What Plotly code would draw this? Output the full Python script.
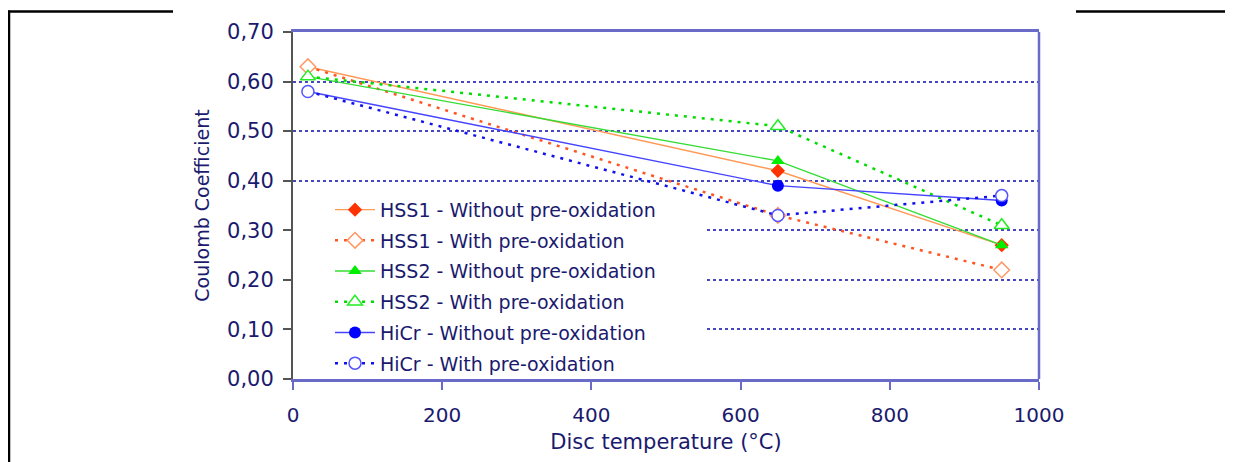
import plotly.graph_objects as go

# ---- data ----
temperatures = [20, 650, 950]
series_names = [
    "HSS1 - Without pre-oxidation",
    "HSS1 - With pre-oxidation",
    "HSS2 - Without pre-oxidation",
    "HSS2 - With pre-oxidation",
    "HiCr - Without pre-oxidation",
    "HiCr - With pre-oxidation",
]
hss1_without = [0.63, 0.42, 0.27]
hss1_with = [0.63, 0.33, 0.22]
hss2_without = [0.61, 0.44, 0.27]
hss2_with = [0.61, 0.51, 0.31]
hicr_without = [0.58, 0.39, 0.36]
hicr_with = [0.58, 0.33, 0.37]
x_ticks = [0, 200, 400, 600, 800, 1000]
y_ticks = [0.0, 0.1, 0.2, 0.3, 0.4, 0.5, 0.6, 0.7]

# ---- styles ----
TXT = "#1a1a6e"
FONT = "DejaVu Sans, Verdana, sans-serif"
styles = [
    dict(line=dict(color="#ff9955", width=1.4), marker=dict(symbol="diamond", size=11, color="#ff3300")),
    dict(line=dict(color="#ff5522", width=2.5, dash="3px,6px"),
         marker=dict(symbol="diamond", size=12, color="white", line=dict(width=1.5, color="#ff9966"))),
    dict(line=dict(color="#33dd33", width=1.4), marker=dict(symbol="triangle-up", size=12, color="#00ee00")),
    dict(line=dict(color="#00dd00", width=2.5, dash="3px,6px"),
         marker=dict(symbol="triangle-up", size=13, color="white", line=dict(width=1.5, color="#22ee22"))),
    dict(line=dict(color="#4444ff", width=1.4), marker=dict(symbol="circle", size=12, color="#0000ff")),
    dict(line=dict(color="#1111ee", width=2.5, dash="3px,6px"),
         marker=dict(symbol="circle", size=12, color="white", line=dict(width=1.5, color="#5555ff"))),
]
values = [hss1_without, hss1_with, hss2_without, hss2_with, hicr_without, hicr_with]

fig = go.Figure()
for i, (name, vals, st) in enumerate(zip(series_names, values, styles)):
    fig.add_trace(go.Scatter(
        x=temperatures, y=vals, name=name, mode="lines+markers",
        line=st["line"], marker=st["marker"], legendgroup=f"g{i}",
    ))

# page has an 8px body margin, so the figure is placed at (8, 8)
OFF = 8
W, H = 1233 - OFF, 462 - OFF
# plot-area corners in page pixels
L, R, T, B = 293, 1039, 29, 383


def px_x(p):
    return (p - L) / (R - L)


def px_y(p):
    return (B - p) / (B - T)


shapes = [
    # white area behind legend hiding grid lines
    dict(type="rect", xref="x", yref="y", x0=0, x1=553, y0=0.015, y1=0.372,
         fillcolor="white", line=dict(width=0), layer="between"),
    # right border of plot area
    dict(type="line", xref="x domain", yref="y domain", x0=1, x1=1, y0=0, y1=1,
         line=dict(color="#6a6ac8", width=2.5), layer="above"),
    # decorative page frame lines
    dict(type="line", xref="paper", yref="paper", x0=px_x(6), x1=px_x(173), y0=px_y(8), y1=px_y(8),
         line=dict(color="black", width=2.5)),
    dict(type="line", xref="paper", yref="paper", x0=px_x(9), x1=px_x(9), y0=px_y(7), y1=px_y(470),
         line=dict(color="black", width=2.5)),
    dict(type="line", xref="paper", yref="paper", x0=px_x(1076), x1=px_x(1240), y0=px_y(8), y1=px_y(8),
         line=dict(color="black", width=2.5)),
]

fig.update_layout(
    width=W, height=H, autosize=False,
    margin=dict(l=L - OFF, r=W - (R - OFF), t=T - OFF, b=H - (B - OFF), pad=0),
    paper_bgcolor="white", plot_bgcolor="white",
    separators=", ",
    font=dict(family=FONT, size=20, color=TXT),
    showlegend=True,
    legend=dict(
        x=px_x(330), y=px_y(191), xanchor="left", yanchor="top",
        bgcolor="rgba(0,0,0,0)", borderwidth=0,
        font=dict(family=FONT, size=19, color=TXT),
        traceorder="grouped", tracegroupgap=3, itemwidth=40,
    ),
    shapes=shapes,
    xaxis=dict(
        range=[0, 1000], tickvals=x_ticks, ticks="outside", ticklen=8, tickwidth=1.5,
        tickcolor="#6a6ac8", showline=True, linecolor="#6a6ac8", linewidth=2.5, mirror=True,
        showgrid=False, zeroline=False, ticklabelstandoff=8,
        tickfont=dict(family=FONT, size=20, color=TXT),
        title=dict(text="Disc temperature (°C)", font=dict(family=FONT, size=21, color=TXT), standoff=9),
    ),
    yaxis=dict(
        range=[0, 0.70], tickvals=y_ticks, tickformat=".2f", ticks="outside", ticklen=8, tickwidth=1.5,
        tickcolor="#555555", showline=True, linecolor="#555555", linewidth=2, mirror=False,
        showgrid=True, gridcolor="#4646c0", gridwidth=1.5, griddash="dot", zeroline=False,
        ticklabelstandoff=5,
        tickfont=dict(family=FONT, size=21, color=TXT),
        title=dict(text="Coulomb Coefficient", font=dict(family=FONT, size=19, color=TXT), standoff=12),
    ),
)

fig.write_html("out.html")
